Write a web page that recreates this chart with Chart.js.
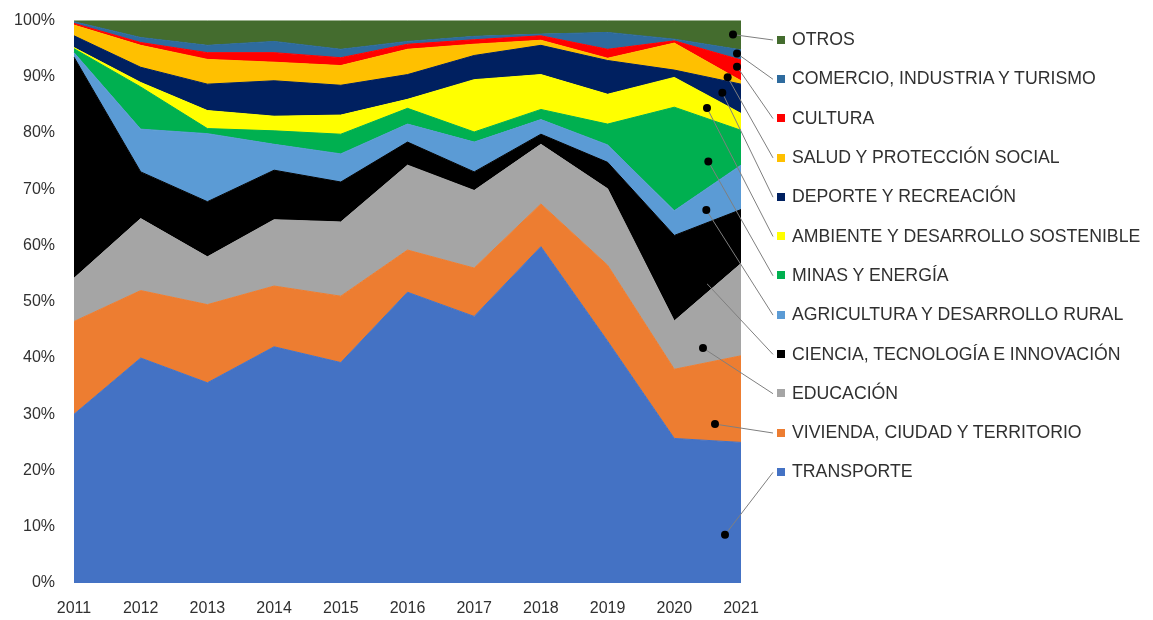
<!DOCTYPE html>
<html>
<head>
<meta charset="utf-8">
<script src="https://cdn.jsdelivr.net/npm/chart.js@4/dist/chart.umd.min.js"></script>
<style>
  body { margin: 0; background: #fff; }
  #wrap { position: relative; width: 1153px; height: 620px; }
  #legend {
    position: absolute; left: 777px; top: 20px; margin: 0; padding: 0; list-style: none;
    font-family: "Liberation Sans", Arial, sans-serif; font-size: 17.7px; color: #303030;
  }
  #legend li { height: 39.3px; display: flex; align-items: center; white-space: nowrap; }
  #legend .box { width: 8px; height: 8px; margin-right: 7px; flex: none; }
</style>
</head>
<body>
<div id="wrap">
  <canvas id="chart" width="1153" height="620"></canvas>
  <ul id="legend"></ul>
</div>
<script>
const years = ["2011","2012","2013","2014","2015","2016","2017","2018","2019","2020","2021"];

const names = [
  "TRANSPORTE",
  "VIVIENDA, CIUDAD Y TERRITORIO",
  "EDUCACIÓN",
  "CIENCIA, TECNOLOGÍA E INNOVACIÓN",
  "AGRICULTURA Y DESARROLLO RURAL",
  "MINAS Y ENERGÍA",
  "AMBIENTE Y DESARROLLO SOSTENIBLE",
  "DEPORTE Y RECREACIÓN",
  "SALUD Y PROTECCIÓN SOCIAL",
  "CULTURA",
  "COMERCIO, INDUSTRIA Y TURISMO",
  "OTROS"
];

// shares in %
const transporte  = [30.0, 40.0, 35.6, 42.0, 39.2, 51.7, 47.4, 59.8, 43.0, 25.7, 25.0];
const vivienda    = [16.5, 12.0, 13.9, 10.8, 11.8,  7.5,  8.6,  7.6, 13.5, 12.3, 15.4];
const educacion   = [ 7.7, 12.8,  8.5, 11.8, 13.2, 15.1, 13.8, 10.6, 13.6,  8.6, 16.4];
const ciencia     = [39.3,  8.3,  9.8,  8.8,  7.1,  4.1,  3.3,  1.8,  4.7, 15.2,  9.6];
const agricultura = [ 0.8,  7.6, 12.1,  4.6,  5.0,  3.2,  5.3,  2.6,  3.1,  4.4,  7.9];
const minas       = [ 0.7,  7.5,  0.9,  2.4,  3.5,  2.8,  1.8,  1.8,  3.7, 18.4,  6.2];
const ambiente    = [ 0.2,  0.8,  3.2,  2.6,  3.4,  1.6,  9.3,  6.2,  5.3,  5.3,  3.0];
const deporte     = [ 2.1,  2.7,  4.7,  6.3,  5.3,  4.4,  4.3,  5.2,  6.0,  1.3,  5.2];
const salud       = [ 1.9,  3.9,  4.4,  3.3,  3.5,  4.5,  2.0,  0.9,  0.4,  4.8,  0.6];
const cultura     = [ 0.3,  0.5,  1.2,  1.7,  1.4,  0.9,  0.8,  0.8,  1.6,  0.4,  3.7];
const comercio    = [ 0.3,  0.9,  1.3,  2.0,  1.5,  0.5,  0.6,  0.3,  3.0,  0.3,  1.8];
const otros       = [ 0.2,  3.0,  4.4,  3.7,  5.1,  3.7,  2.8,  2.4,  2.1,  3.3,  5.2];

const series = [transporte, vivienda, educacion, ciencia, agricultura, minas,
                ambiente, deporte, salud, cultura, comercio, otros];

const colors = ["#4472C4","#ED7D31","#A5A5A5","#000000","#5B9BD5","#00B050",
                "#FFFF00","#002060","#FFC000","#FF0000","#2E6B9E","#446C2E"];

// where each label dot sits: [x as year index, fraction up the band]
const dotAt = [[9.76,0.34],[9.61,0.21],[9.43,0.23],[9.45,0.2],[9.48,0.38],[9.51,0.38],
               [9.49,0.45],[9.72,0.46],[9.80,0.5],[9.94,0.6],[9.94,0.55],[9.88,0.5]];

const legendTop = 40, legendStep = 39.3;

const datasets = series.map((d, i) => ({
  label: names[i],
  data: d,
  backgroundColor: colors[i],
  borderColor: colors[i],
  borderWidth: 1,
  pointRadius: 0,
  tension: 0,
  fill: i === 0 ? "origin" : "-1"
}));

function cumAt(idx, upto) {
  const i0 = Math.min(Math.floor(idx), years.length - 2);
  const t = idx - i0;
  let s = 0;
  for (let k = 0; k <= upto; k++) {
    s += series[k][i0] + (series[k][i0 + 1] - series[k][i0]) * t;
  }
  return s;
}

const leaders = {
  id: "leaders",
  afterDatasetsDraw(chart) {
    const ctx = chart.ctx;
    const x = chart.scales.x, y = chart.scales.y;
    ctx.save();
    series.forEach((d, i) => {
      const [idx, frac] = dotAt[i];
      const lo = i === 0 ? 0 : cumAt(idx, i - 1);
      const hi = cumAt(idx, i);
      const px = x.getPixelForValue(idx);
      const py = y.getPixelForValue(lo + (hi - lo) * frac);
      const ly = legendTop + legendStep * (series.length - 1 - i);
      ctx.strokeStyle = "#7f7f7f";
      ctx.lineWidth = 1;
      ctx.beginPath();
      ctx.moveTo(px, py);
      ctx.lineTo(773, ly);
      ctx.stroke();
      ctx.fillStyle = "#000";
      ctx.beginPath();
      ctx.arc(px, py, 4, 0, Math.PI * 2);
      ctx.fill();
    });
    ctx.restore();
  }
};

new Chart(document.getElementById("chart"), {
  type: "line",
  data: { labels: years, datasets: datasets },
  options: {
    responsive: false,
    animation: false,
    layout: { padding: { top: 11, right: 412, left: 0, bottom: 0 } },
    plugins: { legend: { display: false }, tooltip: { enabled: false } },
    scales: {
      x: {
        offset: false,
        grid: { display: false },
        border: { display: false },
        ticks: { color: "#303030", padding: 8, maxRotation: 0,
                 font: { family: "'Liberation Sans', Arial", size: 16 } },
        afterFit(s) { s.height = 37; }
      },
      y: {
        stacked: true,
        min: 0, max: 100,
        grid: { display: false },
        border: { display: false },
        ticks: { stepSize: 10, color: "#303030", padding: 11,
                 callback: v => v + "%",
                 font: { family: "'Liberation Sans', Arial", size: 16 } },
        afterFit(s) { s.width = 74; }
      }
    }
  },
  plugins: [leaders]
});

const legend = document.getElementById("legend");
for (let i = names.length - 1; i >= 0; i--) {
  const li = document.createElement("li");
  li.innerHTML = `<span class="box" style="background:${colors[i]}"></span>${names[i]}`;
  legend.appendChild(li);
}
</script>
</body>
</html>
